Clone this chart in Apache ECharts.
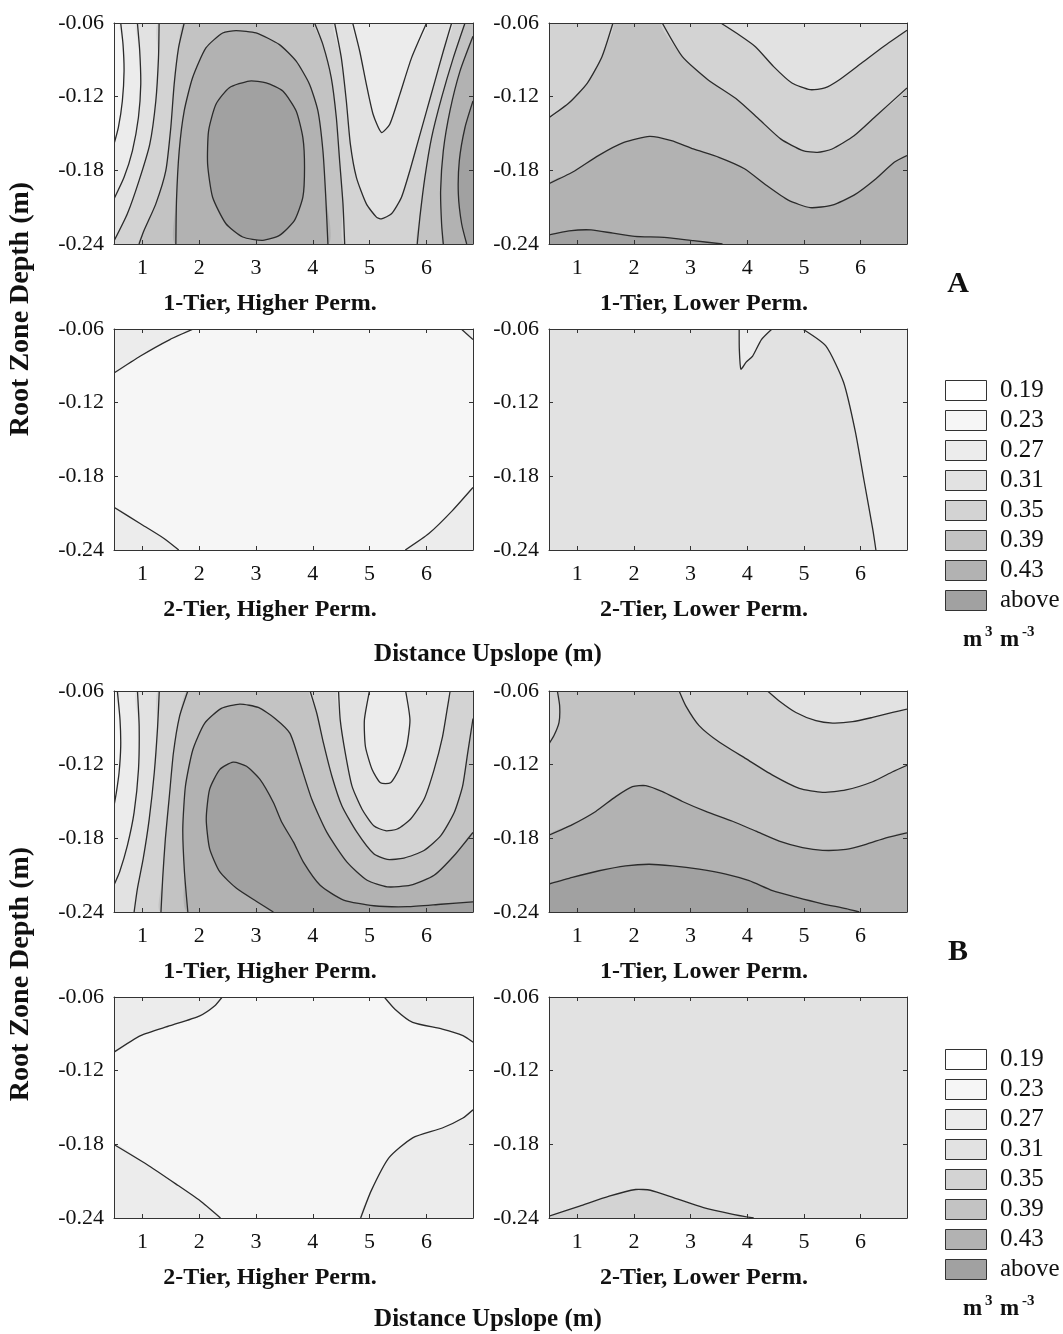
<!DOCTYPE html>
<html>
<head>
<meta charset="utf-8">
<title>Root zone water content</title>
<script src="https://cdn.jsdelivr.net/npm/echarts@6.0.0/dist/echarts.min.js"></script>
<style>
  html, body { margin: 0; padding: 0; background: #fff; }
  #main { width: 1063px; height: 1334px; }
</style>
</head>
<body>
<div id="main"></div>
<script>
// axes
var xTicks = [1, 2, 3, 4, 5, 6];
var yTicks = [-0.24, -0.18, -0.12, -0.06];
var xMin = 0.5, xMax = 6.82, yMin = -0.24, yMax = -0.06;

// legend classes (upper bound of each band)
var legendLabels = ['0.19', '0.23', '0.27', '0.31', '0.35', '0.39', '0.43', 'above'];
var bandColors = ['#ffffff', '#f6f6f6', '#ececec', '#e2e2e2', '#d3d3d3', '#c3c3c3', '#b2b2b2', '#a1a1a1'];

var panelTitles = ['1-Tier, Higher Perm.', '1-Tier, Lower Perm.', '2-Tier, Higher Perm.', '2-Tier, Lower Perm.',
                   '1-Tier, Higher Perm.', '1-Tier, Lower Perm.', '2-Tier, Higher Perm.', '2-Tier, Lower Perm.'];

// contour lines, points are [distance upslope (m), depth (m)]
// A, 1-tier higher perm.
var a1_c23 = [[0.618,-0.06],[0.659,-0.0776],[0.677,-0.0992],[0.647,-0.1235],[0.577,-0.1451],[0.5,-0.1587]];
var a1_c27 = [[0.912,-0.06],[0.953,-0.083],[0.971,-0.11],[0.93,-0.137],[0.824,-0.1641],[0.677,-0.1857],[0.5,-0.2033]];
var a1_c31 = [[1.294,-0.06],[1.283,-0.0884],[1.236,-0.1235],[1.13,-0.1587],[0.941,-0.1884],[0.735,-0.2154],[0.5,-0.2376]];
var a1_c35 = [[1.736,-0.06],[1.636,-0.0803],[1.559,-0.11],[1.5,-0.1451],[1.412,-0.1803],[1.236,-0.2073],[1.03,-0.2289],[0.941,-0.24]];
var a1_c39 = [[1.589,-0.24],[1.6,-0.2046],[1.648,-0.1641],[1.736,-0.1316],[1.883,-0.1046],[2.118,-0.0803],[2.413,-0.0681],[2.648,-0.0662],
              [3.001,-0.0681],[3.413,-0.0776],[3.707,-0.0911],[3.943,-0.11],[4.09,-0.1316],[4.178,-0.1641],[4.225,-0.1992],[4.266,-0.24]];
var a1_c43 = [[2.883,-0.1073],[3.178,-0.1087],[3.472,-0.1154],[3.707,-0.1316],[3.825,-0.1533],[3.854,-0.1776],[3.825,-0.2019],[3.678,-0.2208],
              [3.413,-0.233],[3.119,-0.237],[2.766,-0.2343],[2.471,-0.2235],[2.236,-0.2019],[2.148,-0.1749],[2.165,-0.1478],[2.295,-0.1262],[2.53,-0.1127]];
var a1_c35b = [[4.031,-0.06],[4.178,-0.0776],[4.325,-0.1046],[4.414,-0.137],[4.472,-0.1722],[4.531,-0.2073],[4.561,-0.24]];
var a1_c31b = [[4.384,-0.06],[4.502,-0.0884],[4.59,-0.1235],[4.661,-0.1587],[4.767,-0.1857],[4.943,-0.2073],[5.12,-0.2181],[5.208,-0.2195],
               [5.385,-0.2154],[5.561,-0.2019],[5.708,-0.1803],[5.855,-0.156],[6.003,-0.1316],[6.15,-0.1073],[6.297,-0.083],[6.444,-0.06]];
var a1_c27b = [[4.702,-0.06],[4.826,-0.083],[4.943,-0.11],[5.061,-0.1343],[5.208,-0.1492],[5.355,-0.1424],[5.532,-0.1181],[5.738,-0.0884],[6.003,-0.06]];
var a1_c35c = [[6.679,-0.06],[6.473,-0.0884],[6.267,-0.1208],[6.091,-0.1533],[5.973,-0.1857],[5.885,-0.2181],[5.838,-0.24]];
var a1_c39b = [[6.82,-0.0708],[6.591,-0.0992],[6.414,-0.1316],[6.297,-0.1641],[6.25,-0.1965],[6.267,-0.2235],[6.297,-0.24]];
var a1_c43b = [[6.82,-0.1235],[6.679,-0.1451],[6.579,-0.1722],[6.562,-0.1992],[6.62,-0.2235],[6.709,-0.24]];

// A, 1-tier lower perm.
var a2_c35 = [[1.629,-0.06],[1.435,-0.0874],[1.177,-0.1089],[0.855,-0.125],[0.5,-0.1371]];
var a2_c35b = [[2.499,-0.06],[2.854,-0.0874],[3.305,-0.1062],[3.821,-0.1223],[4.208,-0.1384],[4.595,-0.1546],[4.982,-0.164],[5.24,-0.1653],
               [5.498,-0.1626],[5.885,-0.1519],[6.272,-0.1358],[6.82,-0.1129]];
var a2_c31 = [[3.531,-0.06],[3.821,-0.0686],[4.144,-0.0793],[4.466,-0.0955],[4.789,-0.1089],[5.111,-0.1143],[5.369,-0.1129],[5.627,-0.1062],
              [6.014,-0.0928],[6.401,-0.0793],[6.82,-0.0659]];
var a2_c39 = [[0.5,-0.1908],[0.919,-0.1814],[1.371,-0.168],[1.822,-0.1573],[2.274,-0.1524],[2.661,-0.1559],[3.048,-0.1626],[3.499,-0.1694],
              [3.951,-0.1787],[4.337,-0.1922],[4.724,-0.2043],[5.111,-0.2104],[5.498,-0.2083],[5.885,-0.2002],[6.272,-0.1868],[6.594,-0.1734],[6.82,-0.168]];
var a2_c43 = [[0.5,-0.2325],[0.855,-0.2293],[1.242,-0.2285],[1.629,-0.2312],[2.016,-0.2338],[2.532,-0.2346],[3.048,-0.2373],[3.563,-0.24]];

// A, 2-tier higher perm.
var a3_tl = [[0.5,-0.0959],[0.966,-0.082],[1.484,-0.0686],[1.899,-0.06]];
var a3_tr = [[6.613,-0.06],[6.82,-0.0686]];
var a3_bl = [[0.5,-0.2052],[0.966,-0.2186],[1.381,-0.2306],[1.64,-0.24]];
var a3_br = [[5.628,-0.24],[6.043,-0.2266],[6.457,-0.2079],[6.82,-0.1891]];

// A, 2-tier lower perm.
var a4_c27 = [[4.976,-0.06],[5.39,-0.0739],[5.7,-0.1034],[5.908,-0.1436],[6.063,-0.1838],[6.219,-0.224],[6.271,-0.24]];
var a4_tongue = [[3.857,-0.06],[3.86,-0.0766],[3.888,-0.0927],[3.98,-0.087],[4.095,-0.082],[4.25,-0.0686],[4.437,-0.06]];

// B, 1-tier higher perm.
var b1_c23 = [[0.559,-0.06],[0.606,-0.0836],[0.618,-0.1051],[0.589,-0.1266],[0.541,-0.1428],[0.5,-0.1535]];
var b1_c27 = [[0.913,-0.06],[0.943,-0.089],[0.931,-0.124],[0.854,-0.1589],[0.736,-0.1858],[0.6,-0.2072],[0.5,-0.218]];
var b1_c31 = [[1.297,-0.06],[1.268,-0.089],[1.209,-0.1266],[1.12,-0.1643],[1.014,-0.1965],[0.913,-0.2207],[0.854,-0.24]];
var b1_c35 = [[1.8,-0.06],[1.652,-0.081],[1.546,-0.1105],[1.475,-0.1454],[1.404,-0.1804],[1.357,-0.2126],[1.327,-0.24]];
var b1_c39 = [[1.8,-0.24],[1.74,-0.2072],[1.711,-0.1723],[1.758,-0.1374],[1.888,-0.1078],[2.095,-0.0863],[2.39,-0.0742],[2.715,-0.0707],
              [3.04,-0.0734],[3.335,-0.0823],[3.598,-0.0945],[3.775,-0.1187],[3.982,-0.1482],[4.248,-0.1752],[4.602,-0.1994],[4.956,-0.2141],
              [5.31,-0.2195],[5.722,-0.2182],[6.135,-0.2101],[6.489,-0.194],[6.82,-0.1752]];
var b1_c43 = [[3.306,-0.24],[3.01,-0.2314],[2.656,-0.2207],[2.361,-0.2072],[2.183,-0.1884],[2.124,-0.1643],[2.183,-0.1401],[2.361,-0.124],
              [2.597,-0.118],[2.833,-0.1213],[3.07,-0.132],[3.306,-0.1508],[3.454,-0.1669],[3.66,-0.1831],[3.834,-0.1994],[4.129,-0.2182],
              [4.542,-0.2303],[5.073,-0.2349],[5.664,-0.2357],[6.253,-0.2337],[6.82,-0.2317]];
var b1_c35b = [[3.952,-0.06],[4.071,-0.0783],[4.188,-0.1025],[4.336,-0.1294],[4.513,-0.1536],[4.779,-0.1752],[5.073,-0.1926],[5.31,-0.1972],
               [5.604,-0.1961],[5.958,-0.1899],[6.253,-0.1778],[6.489,-0.159],[6.637,-0.1375],[6.726,-0.1106],[6.82,-0.0824]];
var b1_c31b = [[4.453,-0.06],[4.483,-0.0837],[4.572,-0.1106],[4.69,-0.1375],[4.867,-0.1563],[5.073,-0.1698],[5.28,-0.1738],[5.487,-0.1724],
               [5.722,-0.1643],[5.958,-0.1482],[6.135,-0.124],[6.284,-0.0971],[6.372,-0.0729],[6.418,-0.06]];
var b1_c27b = [[4.997,-0.06],[4.908,-0.0837],[4.926,-0.1052],[5.044,-0.124],[5.191,-0.1348],[5.368,-0.1348],[5.515,-0.124],[5.652,-0.1052],
               [5.71,-0.0837],[5.634,-0.06]];

// B, 1-tier lower perm.
var b2_c35 = [[0.647,-0.06],[0.688,-0.0721],[0.677,-0.0855],[0.588,-0.0963],[0.5,-0.103]];
var b2_c35b = [[2.797,-0.06],[2.915,-0.0721],[3.15,-0.0882],[3.504,-0.1016],[3.975,-0.1151],[4.446,-0.1285],[4.918,-0.1393],[5.33,-0.1425],
               [5.742,-0.1406],[6.213,-0.1339],[6.567,-0.1258],[6.82,-0.1205]];
var b2_c31 = [[4.358,-0.06],[4.564,-0.0681],[4.859,-0.0775],[5.212,-0.0842],[5.507,-0.0861],[5.86,-0.085],[6.213,-0.0815],[6.567,-0.0775],[6.82,-0.0748]];
var b2_c39 = [[0.5,-0.1774],[0.912,-0.1688],[1.325,-0.1581],[1.678,-0.146],[1.973,-0.1379],[2.208,-0.1371],[2.503,-0.142],[2.856,-0.15],
              [3.268,-0.1581],[3.74,-0.1661],[4.152,-0.1742],[4.564,-0.1823],[4.976,-0.1876],[5.33,-0.1898],[5.742,-0.189],[6.096,-0.1849],
              [6.449,-0.1796],[6.82,-0.1755]];
var b2_c43 = [[0.5,-0.2172],[0.912,-0.2118],[1.384,-0.2064],[1.855,-0.2024],[2.267,-0.2011],[2.679,-0.2024],[3.15,-0.2051],[3.622,-0.2091],
              [4.034,-0.2145],[4.446,-0.2226],[4.859,-0.2279],[5.33,-0.2333],[5.742,-0.2373],[5.978,-0.24]];

// B, 2-tier higher perm.
var b3_tl = [[0.5,-0.1049],[0.969,-0.0914],[1.489,-0.0834],[2.01,-0.0753],[2.27,-0.0673],[2.405,-0.06]];
var b3_tr = [[5.258,-0.06],[5.446,-0.0699],[5.758,-0.0807],[6.279,-0.0861],[6.643,-0.0914],[6.82,-0.0968]];
var b3_bl = [[0.5,-0.1801],[1.073,-0.1962],[1.593,-0.2124],[2.01,-0.2258],[2.374,-0.24]];
var b3_br = [[4.842,-0.24],[5.029,-0.2177],[5.342,-0.1909],[5.758,-0.1747],[6.279,-0.1667],[6.643,-0.1586],[6.82,-0.1519]];

// B, 2-tier lower perm.
var b4_c35 = [[0.5,-0.2385],[1.041,-0.2303],[1.562,-0.2222],[2.031,-0.2168],[2.291,-0.2174],[2.707,-0.2236],[3.228,-0.2316],[3.749,-0.237],[4.113,-0.24]];

var TL = [xMin, yMax], TR = [xMax, yMax], BL = [xMin, yMin], BR = [xMax, yMin];
var FULL = [BL, BR, TR, TL];

// each fill: [band, contour line, panel corners that close the region]; painted in order
var panels = [
  {fills: [[1, null, FULL], [2, a1_c23, [BL, BR, TR]], [3, a1_c27, [BL, BR, TR]], [4, a1_c31, [BL, BR, TR]], [5, a1_c35, [BR, TR]],
           [6, a1_c39, []], [7, a1_c43, []], [4, a1_c35b, [BR, TR]], [3, a1_c31b, []], [2, a1_c27b, []],
           [5, a1_c35c, [BR, TR]], [6, a1_c39b, [BR]], [7, a1_c43b, [BR]]],
   lines: [a1_c23, a1_c27, a1_c31, a1_c35, a1_c39, a1_c43, a1_c35b, a1_c31b, a1_c27b, a1_c35c, a1_c39b, a1_c43b],
   loops: [a1_c43]},
  {fills: [[5, null, FULL], [4, a2_c35, [TL]], [4, a2_c35b, [TR]], [3, a2_c31, [TR]], [6, a2_c39, [BR, BL]], [7, a2_c43, [BL]]],
   lines: [a2_c35, a2_c35b, a2_c31, a2_c39, a2_c43], loops: []},
  {fills: [[1, null, FULL], [2, a3_tl, [TL]], [2, a3_tr, [TR]], [2, a3_bl, [BL]], [2, a3_br, [BR]]],
   lines: [a3_tl, a3_tr, a3_bl, a3_br], loops: []},
  {fills: [[3, null, FULL], [2, a4_c27, [BR, TR]], [2, a4_tongue, []]],
   lines: [a4_c27, a4_tongue], loops: []},
  {fills: [[1, null, FULL], [2, b1_c23, [BL, BR, TR]], [3, b1_c27, [BL, BR, TR]], [4, b1_c31, [BL, BR, TR]], [5, b1_c35, [BR, TR]],
           [6, b1_c39, [BR]], [7, b1_c43, [BR]], [4, b1_c35b, [TR]], [3, b1_c31b, []], [2, b1_c27b, []]],
   lines: [b1_c23, b1_c27, b1_c31, b1_c35, b1_c39, b1_c43, b1_c35b, b1_c31b, b1_c27b], loops: []},
  {fills: [[5, null, FULL], [4, b2_c35, [TL]], [4, b2_c35b, [TR]], [3, b2_c31, [TR]], [6, b2_c39, [BR, BL]], [7, b2_c43, [BL]]],
   lines: [b2_c35, b2_c35b, b2_c31, b2_c39, b2_c43], loops: []},
  {fills: [[1, null, FULL], [2, b3_tl, [TL]], [2, b3_tr, [TR]], [2, b3_bl, [BL]], [2, b3_br, [BR]]],
   lines: [b3_tl, b3_tr, b3_bl, b3_br], loops: []},
  {fills: [[3, null, FULL], [4, b4_c35, [BL]]],
   lines: [b4_c35], loops: []}
];

var FONT = '"Liberation Serif", "Times New Roman", serif';
var SMOOTH = 0.2;
var colLeft = [114, 549], colWidth = [359, 358];
var rowTop = [23, 329, 691, 997], rowHeight = 221;
var titleX = [270, 704];

var chart = echarts.init(document.getElementById('main'));

var grids = [], xAxes = [], yAxes = [], series = [], graphics = [];

function xAxisFor(i, pos, labels) {
  return {
    gridIndex: i, type: 'value', position: pos, min: xMin, max: xMax, z: 5,
    axisLine: {show: true, onZero: false, lineStyle: {color: '#333', width: 1}},
    axisTick: {show: true, inside: true, length: 4, customValues: xTicks, lineStyle: {color: '#333'}},
    axisLabel: {show: labels, customValues: xTicks, margin: 13, fontSize: 22, fontFamily: FONT, color: '#111'},
    splitLine: {show: false}
  };
}

function yAxisFor(i, pos, labels) {
  return {
    gridIndex: i, type: 'value', position: pos, min: yMin, max: yMax, interval: 0.06, z: 5,
    axisLine: {show: true, onZero: false, lineStyle: {color: '#333', width: 1}},
    axisTick: {show: true, inside: true, length: 4, customValues: yTicks, lineStyle: {color: '#333'}},
    axisLabel: {show: labels, customValues: yTicks, margin: 10, fontSize: 22, fontFamily: FONT, color: '#111',
                formatter: function (v) { return v.toFixed(2); }},
    splitLine: {show: false}
  };
}

function textEl(x, y, txt, size, bold, rot) {
  return {
    type: 'text', x: x, y: y, rotation: rot || 0, z: 10,
    style: {text: txt, fontSize: size, fontWeight: bold ? 'bold' : 'normal', fontFamily: FONT, fill: '#111',
            align: 'center', verticalAlign: 'middle', textAlign: 'center', textVerticalAlign: 'middle'}
  };
}

panels.forEach(function (p, i) {
  var col = i % 2, row = Math.floor(i / 2);
  grids.push({left: colLeft[col], top: rowTop[row], width: colWidth[col], height: rowHeight, show: false});
  xAxes.push(xAxisFor(i, 'bottom', true), xAxisFor(i, 'top', false));
  yAxes.push(yAxisFor(i, 'left', true), yAxisFor(i, 'right', false));

  var box = function (api) {
    return [api.coord([xMin, yMax]), api.coord([xMax, yMin])];
  };

  series.push({
    type: 'custom', name: 'fill' + i, xAxisIndex: 2 * i, yAxisIndex: 2 * i, clip: true, silent: true, z: 1,
    data: p.fills.map(function (f) { return (f[1] || f[2])[0]; }),
    renderItem: function (params, api) {
      var f = p.fills[params.dataIndex];
      var pts = (f[1] || []).concat(f[2]).map(function (d) { return api.coord(d); });
      return {
        type: 'polygon',
        shape: {points: pts, smooth: f[1] ? SMOOTH : 0, smoothConstraint: box(api)},
        style: {fill: bandColors[f[0]], stroke: null}
      };
    }
  });

  series.push({
    type: 'custom', name: 'line' + i, xAxisIndex: 2 * i, yAxisIndex: 2 * i, clip: true, silent: true, z: 2,
    data: p.lines.map(function (l) { return l[0]; }),
    renderItem: function (params, api) {
      var l = p.lines[params.dataIndex];
      var pts = l.map(function (d) { return api.coord(d); });
      var loop = p.loops.indexOf(l) >= 0;
      return {
        type: loop ? 'polygon' : 'polyline',
        shape: {points: pts, smooth: SMOOTH, smoothConstraint: box(api)},
        style: {fill: 'none', stroke: '#2b2b2b', lineWidth: 1.3}
      };
    }
  });

  graphics.push(textEl(titleX[col], rowTop[row] + rowHeight + 60, panelTitles[i], 24, true));
});

// shared labels
graphics.push(textEl(488, 655, 'Distance Upslope (m)', 25, true));
graphics.push(textEl(488, 1320, 'Distance Upslope (m)', 25, true));
graphics.push(textEl(21, 309, 'Root Zone Depth (m)', 28, true, Math.PI / 2));
graphics.push(textEl(21, 974, 'Root Zone Depth (m)', 28, true, Math.PI / 2));
graphics.push(textEl(958, 284, 'A', 30, true));
graphics.push(textEl(958, 952, 'B', 30, true));

// legends
[380, 1049].forEach(function (top) {
  legendLabels.forEach(function (lab, k) {
    graphics.push({
      type: 'rect', z: 10, shape: {x: 945.5, y: top + 30 * k + 0.5, width: 41, height: 20},
      style: {fill: bandColors[k], stroke: '#333', lineWidth: 1}
    });
    var t = textEl(1000, top + 30 * k + 10, lab, 25, false);
    t.style.align = 'left';
    t.style.textAlign = 'left';
    graphics.push(t);
  });
  var uy = top + 260;
  var parts = [[963, 0, 'm', 23], [985, -8, '3', 15], [1000, 0, 'm', 23], [1022, -8, '-3', 15]];
  parts.forEach(function (pt) {
    var t = textEl(pt[0], uy + pt[1], pt[2], pt[3], true);
    t.style.align = 'left';
    t.style.textAlign = 'left';
    graphics.push(t);
  });
});

chart.setOption({
  backgroundColor: '#ffffff',
  animation: false,
  grid: grids,
  xAxis: xAxes,
  yAxis: yAxes,
  series: series,
  graphic: graphics
});
</script>
</body>
</html>
